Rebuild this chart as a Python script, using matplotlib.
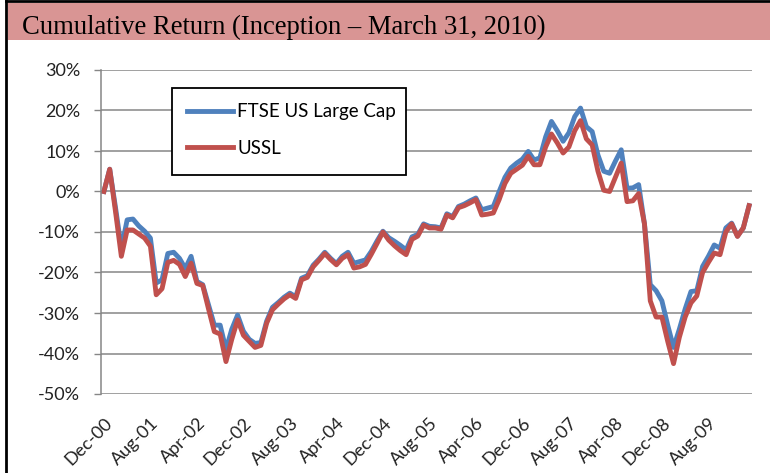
import pandas as pd
import matplotlib
matplotlib.use('Agg')
import matplotlib.pyplot as plt
from matplotlib.patches import Rectangle
from matplotlib.lines import Line2D

plt.rcParams['axes.unicode_minus'] = False

# monthly points, Dec-00 .. Mar-10
months = pd.date_range('2000-12-01', periods=112, freq='MS').strftime('%b-%y').tolist()

ftse = [0, 5.5, -4.0, -14.0, -7.0, -6.8, -8.5, -9.8, -11.5, -22.6,
        -21.8, -15.3, -15.0, -16.5, -19.0, -16.0, -22.2, -23.0, -28.0, -33.0,
        -33.0, -39.0, -34.0, -30.5, -34.5, -36.5, -37.5, -37.3, -32.0, -28.6,
        -27.4, -26.1, -25.1, -26.0, -21.4, -20.8, -18.2, -16.7, -15.0, -16.5,
        -17.8, -16.0, -15.0, -17.7, -17.3, -16.9, -14.8, -12.2, -9.8, -11.4,
        -12.3, -13.3, -14.4, -11.2, -10.6, -8.0, -8.6, -8.7, -9.0, -5.5,
        -6.2, -3.7, -3.1, -2.3, -1.6, -4.5, -4.1, -3.7, 0.0, 3.5,
        5.8, 7.0, 8.0, 9.9, 7.8, 8.3, 13.5, 17.3, 15.0, 12.4,
        14.5, 18.5, 20.6, 16.0, 14.8, 9.0, 5.0, 4.5, 7.5, 10.3,
        0.8, 0.9, 1.7, -8.0, -23.0, -24.5, -27.0, -33.0, -38.5, -34.0,
        -29.0, -24.7, -24.5, -18.5, -16.0, -13.2, -14.0, -9.0, -7.8, -11.0,
        -9.0, -3.5]

ussl = [0, 5.5, -5.0, -16.0, -9.5, -9.5, -10.5, -11.5, -13.5, -25.5,
        -24.0, -17.5, -17.0, -18.0, -21.0, -17.7, -22.7, -23.2, -29.0, -34.6,
        -35.2, -42.0, -36.5, -31.7, -35.5, -37.0, -38.5, -38.0, -32.5, -29.2,
        -27.8, -26.5, -25.5, -26.4, -21.8, -21.2, -18.6, -17.0, -15.3, -16.8,
        -18.1, -16.5, -15.6, -18.9, -18.6, -18.0, -15.5, -12.8, -10.0, -12.0,
        -13.4, -14.6, -15.6, -11.8, -11.0, -8.3, -9.0, -9.0, -9.3, -5.8,
        -6.5, -4.0, -3.5, -2.8, -2.0, -5.8, -5.6, -5.3, -2.0, 2.0,
        4.5, 5.5, 6.5, 8.7, 6.6, 6.6, 11.0, 14.2, 12.0, 9.5,
        11.0, 15.0, 17.5, 13.0, 11.5, 5.0, 0.3, 0.0, 3.5, 7.0,
        -2.5, -2.3, -0.5, -8.0, -27.0, -31.0, -31.0, -37.0, -42.5, -36.0,
        -31.0, -27.5, -25.8, -20.0, -17.5, -15.2, -15.6, -10.0, -8.0, -11.1,
        -9.0, -3.5]

yticks = [30, 20, 10, 0, -10, -20, -30, -40, -50]
title = 'Cumulative Return (Inception \u2013 March 31, 2010)'

fig = plt.figure(figsize=(7.7, 4.73), dpi=100)
W, H = 770, 473
ax = fig.add_axes([101/W, 1-394/H, 651/W, 324/H])

x = list(range(len(months)))
ax.plot(x, ftse, color='#4F81BD', lw=3.5, label='FTSE US Large Cap', zorder=2, solid_joinstyle='round')
ax.plot(x, ussl, color='#C0504D', lw=3.5, label='USSL', zorder=2.1, solid_joinstyle='round')

ax.set_xlim(-0.5, len(months) - 0.5)
ax.set_ylim(-50, 30)
ax.set_yticks(yticks)
ax.set_yticklabels([f'{v}%' for v in yticks], family='Lato', fontsize=13, color='#222222')
ax.tick_params(axis='y', length=5, width=1, color='#868686', pad=10)
ax.grid(axis='y', color='#868686', lw=1.1, zorder=0)
ax.set_axisbelow(True)

pos = x[::8]
ax.set_xticks(pos)
ax.set_xticklabels([months[i] for i in pos], rotation=45, ha='right', rotation_mode='anchor',
                   family='Lato', fontsize=13, color='#222222')
ax.tick_params(axis='x', length=0, pad=15)

for s in ['top', 'right', 'bottom']:
    ax.spines[s].set_visible(False)
ax.spines['left'].set_color('#868686')
ax.spines['left'].set_linewidth(1.1)

# legend box
ax.add_patch(Rectangle((71/651, 219/324), 234/651, 87/324, transform=ax.transAxes,
                       facecolor='white', edgecolor='black', lw=1.3, zorder=3))
leg = ax.legend(loc='center left', bbox_to_anchor=(77/651, 264/324), frameon=False,
                borderpad=0, handlelength=2.45, handletextpad=0.2, labelspacing=1.05,
                prop={'family': 'Lato', 'size': 13.5})
leg.set_zorder(4)

# title bar and page border
fig.add_artist(Rectangle((8/W, 1-40/H), 762/W, 37/H, transform=fig.transFigure,
                         facecolor='#D99594', edgecolor='none'))
fig.add_artist(Line2D([6/W, 6/W], [0, 1-1/H], color='black', lw=2, transform=fig.transFigure))
fig.add_artist(Line2D([6/W, 1], [1-1.5/H, 1-1.5/H], color='black', lw=2, transform=fig.transFigure))
t = fig.text(22/W, 1-34/H, title, family='Liberation Serif', fontsize=18, va='baseline')
fig.canvas.draw()
w = t.get_window_extent().width
t.set_fontsize(18*526/w)

fig.savefig('out.png', dpi=100)
